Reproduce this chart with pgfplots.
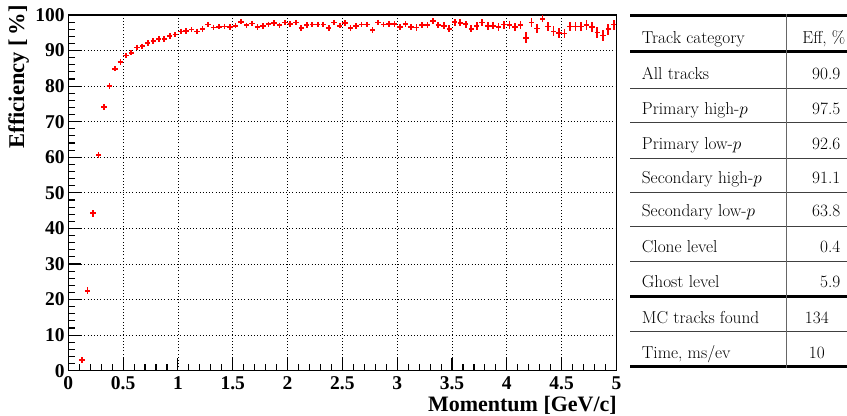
\documentclass[border=0pt]{standalone}
\usepackage{fontspec}
\usepackage{pgfplots}
\usepackage{pgfplotstable}
\pgfplotsset{compat=1.18}
\newfontfamily\rootfont{Liberation Serif}
\definecolor{rootred}{RGB}{255,0,0}
\pgfplotstableread{
x y ey
0.125 3.0 0.6
0.175 22.5 0.9
0.225 44.3 1.0
0.275 60.6 0.9
0.325 74.2 0.8
0.375 80.0 0.7
0.425 84.9 0.6
0.475 86.8 0.6
0.525 88.6 0.5
0.575 89.4 0.5
0.625 90.9 0.5
0.675 91.2 0.5
0.725 92.1 0.5
0.775 92.7 0.5
0.825 93.2 0.5
0.875 93.2 0.5
0.925 94.1 0.5
0.975 94.5 0.5
1.025 95.4 0.5
1.075 95.5 0.5
1.125 95.9 0.5
1.175 95.4 0.5
1.225 96.1 0.5
1.275 97.3 0.5
1.325 96.5 0.5
1.375 96.7 0.5
1.425 96.8 0.5
1.475 96.6 0.5
1.525 97.0 0.6
1.575 98.1 0.6
1.625 97.1 0.6
1.675 97.6 0.6
1.725 96.6 0.6
1.775 96.9 0.6
1.825 97.4 0.6
1.875 97.8 0.6
1.925 97.1 0.6
1.975 97.9 0.6
2.025 97.5 0.6
2.075 97.9 0.6
2.125 96.3 0.7
2.175 97.2 0.7
2.225 97.3 0.7
2.275 97.3 0.7
2.325 97.3 0.7
2.375 96.3 0.7
2.425 97.9 0.7
2.475 97.0 0.7
2.525 97.8 0.8
2.575 96.3 0.8
2.625 96.9 0.8
2.675 97.3 0.8
2.725 97.3 0.8
2.775 95.8 0.8
2.825 97.9 0.8
2.875 97.3 0.8
2.925 97.5 0.8
2.975 97.5 0.8
3.025 96.6 0.9
3.075 97.4 0.9
3.125 96.7 0.9
3.175 96.5 0.9
3.225 97.2 0.9
3.275 97.2 0.9
3.325 98.3 0.9
3.375 97.2 0.9
3.425 97.0 0.9
3.475 96.1 1.0
3.525 98.0 1.0
3.575 97.8 1.0
3.625 97.4 1.0
3.675 96.1 1.0
3.725 96.9 1.0
3.775 97.9 1.0
3.825 96.9 1.0
3.875 97.0 1.0
3.925 96.6 1.1
3.975 97.3 1.1
4.025 97.1 1.1
4.075 96.6 1.1
4.125 97.2 1.2
4.175 93.6 1.5
4.225 97.9 1.2
4.275 96.2 1.3
4.325 98.9 1.0
4.375 96.8 1.3
4.425 95.4 1.4
4.475 95.0 1.4
4.525 94.8 1.4
4.575 96.8 1.3
4.625 96.8 1.3
4.675 96.8 1.3
4.725 97.2 1.3
4.775 96.6 1.4
4.825 95.1 1.5
4.875 94.2 1.6
4.925 96.0 1.5
4.975 97.3 1.4
}\efftable
\begin{document}
\begin{tikzpicture}
\useasboundingbox (0,0) rectangle (847bp,416bp);
\begin{axis}[
  scale only axis,
  width=548.2bp, height=355.7bp,
  at={(68.3bp,45.3bp)}, anchor=south west,
  xmin=0, xmax=5, ymin=0, ymax=100,
  xtick={0,0.5,...,5}, ytick={0,10,...,100},
  minor x tick num=4, minor y tick num=4,
  tick pos=left, tick align=inside,
  major tick length=13bp, minor tick length=7bp,
  every tick/.style={black, line width=1.1bp},
  axis line style={line width=1.4bp},
  grid=major,
  major grid style={black, line width=0.8bp, dash pattern=on 1bp off 2.2bp},
  /pgf/number format/assume math mode=true,
  ticklabel style={font=\rootfont\bfseries\fontsize{19.5bp}{19.5bp}\selectfont},
  yticklabel style={anchor=east, inner sep=0pt, xshift=-3.5bp},
  xticklabel style={anchor=north, inner sep=0pt, yshift=-6bp},
  clip=true,
]
\addplot[
  only marks, mark=+, mark size=2.7bp,
  mark options={rootred, line width=1.7bp},
  error bars/.cd, y dir=both, y explicit,
  error mark=none,
  error bar style={rootred, line width=1.7bp},
] table[x=x, y=y, y error=ey] {\efftable};
\end{axis}
% axis titles
\node[anchor=base east, inner sep=0pt, font=\rootfont\bfseries\fontsize{22bp}{22bp}\selectfont]
  at (617bp,4.5bp) {Momentum [GeV/c]};
\node[rotate=90, anchor=base east, inner sep=0pt, font=\rootfont\bfseries\fontsize{22.5bp}{22.5bp}\selectfont]
  at (24bp,411bp) {Efficiency [\,\%]};
% table
\begin{scope}[every node/.style={inner sep=0pt, font=\fontsize{17.3bp}{20bp}\selectfont}]
\draw[black, line width=3bp] (630bp,400.3bp) -- (847bp,400.3bp);
\draw[black, line width=3bp] (630bp,364.3bp) -- (847bp,364.3bp);
\foreach \yy in {327.7,293.3,257.7,223.7,189.3,154.3,84.3}
  \draw[black!75, line width=1.1bp] (630bp,\yy bp) -- (847bp,\yy bp);
\draw[black, line width=3bp] (630bp,119.3bp) -- (847bp,119.3bp);
\draw[black, line width=3bp] (630bp,49.3bp) -- (847bp,49.3bp);
\draw[black!60, line width=1.2bp] (786.7bp,401.8bp) -- (786.7bp,47.8bp);
\node[anchor=base west] at (641.7bp,372.7bp) {Track category};
\node[anchor=base east] at (845.5bp,372.7bp) {Eff, \%};
\node[anchor=base west] at (641.7bp,336bp) {All tracks};
\node[anchor=base east] at (840.5bp,336bp) {90.9};
\node[anchor=base west] at (641.7bp,301bp) {Primary high-$p$};
\node[anchor=base east] at (840.5bp,301bp) {97.5};
\node[anchor=base west] at (641.7bp,266bp) {Primary low-$p$};
\node[anchor=base east] at (840.5bp,266bp) {92.6};
\node[anchor=base west] at (641.7bp,232bp) {Secondary high-$p$};
\node[anchor=base east] at (840.5bp,232bp) {91.1};
\node[anchor=base west] at (641.7bp,199.3bp) {Secondary low-$p$};
\node[anchor=base east] at (840.5bp,199.3bp) {63.8};
\node[anchor=base west] at (641.7bp,163.7bp) {Clone level};
\node[anchor=base east] at (840.5bp,163.7bp) {0.4};
\node[anchor=base west] at (641.7bp,128.7bp) {Ghost level};
\node[anchor=base east] at (840.5bp,128.7bp) {5.9};
\node[anchor=base west] at (641.7bp,92.7bp) {MC tracks found};
\node[anchor=base] at (816.8bp,92.7bp) {134};
\node[anchor=base west] at (641.7bp,57.7bp) {Time, ms/ev};
\node[anchor=base] at (816.8bp,57.7bp) {10};
\end{scope}
\end{tikzpicture}
\end{document}
